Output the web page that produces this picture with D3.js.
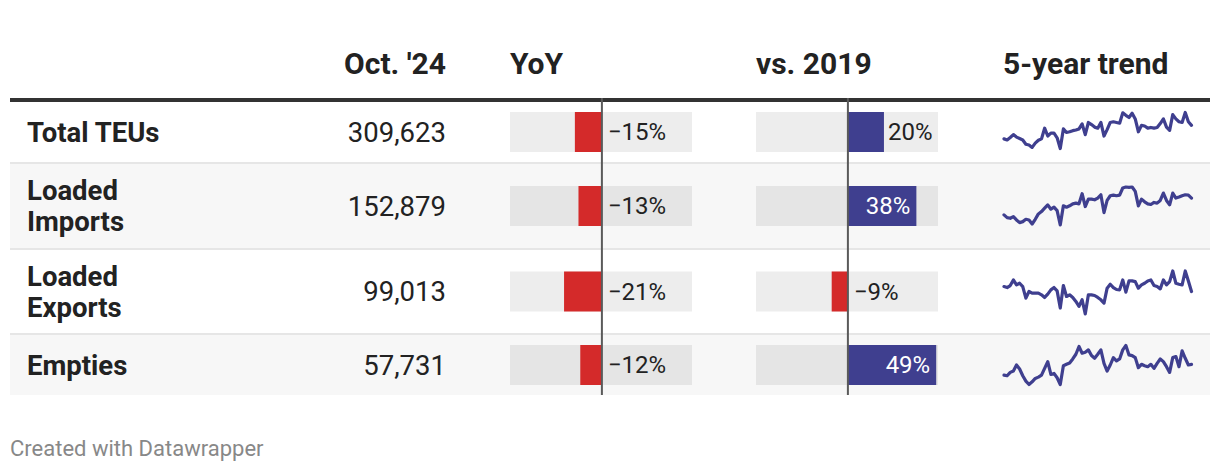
<!DOCTYPE html>
<html><head><meta charset="utf-8">
<script src="https://cdn.jsdelivr.net/npm/d3@7"></script>
<style>html,body{margin:0;padding:0;background:#fff;} svg{display:block;font-family:Roboto, sans-serif;}</style>
</head><body><svg id="c" width="1220" height="472"></svg>
<script>
// ---- data ----
const categories = [["Total TEUs"], ["Loaded", "Imports"], ["Loaded", "Exports"], ["Empties"]];
const octValues = [309623, 152879, 99013, 57731];
const yoyValues = [-15, -13, -21, -12];
const vs2019Values = [20, 38, -9, 49];
const columnHeaders = ["Oct. '24", "YoY", "vs. 2019", "5-year trend"];
const footerText = "Created with Datawrapper";
// 5-year monthly trend (relative level, Oct 2019 – Oct 2024)
const trendTotal = [82,79,86,94,87,83,79,67,65,58,70,78,82,112,90,98,98,85,55,110,100,102,105,107,110,124,94,128,122,115,112,128,90,108,128,130,128,126,155,148,142,154,138,102,120,118,112,114,112,114,125,138,115,106,150,138,130,128,156,130,120];
const trendImports = [65,57,55,60,50,42,45,52,50,38,52,68,75,85,95,82,88,78,35,92,88,92,98,100,98,128,90,112,112,110,115,125,72,108,122,124,122,124,145,148,147,148,135,92,112,104,98,96,102,100,108,130,108,95,130,115,118,122,125,124,115];
const trendExports = [105,102,108,125,110,115,105,70,90,85,85,85,80,72,82,95,102,92,40,108,75,80,72,60,45,65,22,80,80,78,72,65,55,100,112,102,96,95,125,88,122,122,120,100,110,115,122,125,108,105,98,125,110,120,152,115,112,110,152,122,90];
const trendEmpties = [80,78,88,92,110,98,78,62,52,60,70,74,80,100,120,82,85,72,52,108,112,116,128,142,165,145,148,155,138,130,142,155,115,92,110,132,122,128,155,168,140,138,132,102,112,108,105,112,100,115,128,120,105,88,132,135,105,152,130,110,112];
const trends = [trendTotal, trendImports, trendExports, trendEmpties];

// ---- layout ----
const svg = d3.select("#c");
const W = 1220;
const tableX0 = 10, tableX1 = 1210;
const rowTops = [102, 164, 250, 335];
const rowBottoms = [162, 248, 333, 395];
const sparkH = [36, 38, 43, 39];
const sparkOff = [-1.5, 0, 1, 0];
const txt = "#222";
const blue = "#3f3f8f", red = "#d42a2a";
const bodyFs = 27.5, headFs = 30, pctFs = 24;

svg.append("rect").attr("width", W).attr("height", 472).attr("fill", "#fff");

// row backgrounds
categories.forEach((c, i) => {
  svg.append("rect").attr("x", tableX0).attr("width", tableX1 - tableX0)
    .attr("y", rowTops[i]).attr("height", rowBottoms[i] - rowTops[i])
    .attr("fill", i % 2 ? "#f7f7f7" : "#fff");
  if (i > 0) svg.append("rect").attr("x", tableX0).attr("width", tableX1 - tableX0)
    .attr("y", rowTops[i] - 2).attr("height", 2).attr("fill", "#e6e6e6");
});

// header
const headX = [446, 510, 756, 1003];
const headAnchor = ["end", "start", "start", "start"];
columnHeaders.forEach((h, i) => {
  svg.append("text").attr("x", headX[i]).attr("y", 74).attr("text-anchor", headAnchor[i])
    .attr("font-size", headFs).attr("font-weight", 700).attr("fill", txt).text(h);
});
svg.append("rect").attr("x", tableX0).attr("width", tableX1 - tableX0).attr("y", 98).attr("height", 4).attr("fill", "#333");

const centers = rowTops.map((t, i) => (t + rowBottoms[i]) / 2);
const cap = 0.711;

// row labels
categories.forEach((lines, i) => {
  const lh = 31;
  const n = lines.length;
  lines.forEach((l, j) => {
    const base = centers[i] + 19.5 / 2 + (j - (n - 1) / 2) * lh;
    svg.append("text").attr("x", 27).attr("y", base).attr("font-size", bodyFs)
      .attr("font-weight", 700).attr("fill", txt).text(l);
  });
});

// numbers
const fmt = d3.format(",");
octValues.forEach((v, i) => {
  svg.append("text").attr("x", 446).attr("y", centers[i] + 19.5 / 2)
    .attr("text-anchor", "end").attr("font-size", bodyFs).attr("fill", txt).text(fmt(v));
});

// bar columns
const pct = v => (v < 0 ? "\u2212" : "") + Math.abs(v) + "%";
function barColumn(values, x0, x1) {
  const x = d3.scaleLinear().domain([-51, 50]).range([x0, x1]);
  const g = svg.append("g");
  values.forEach((v, i) => {
    const cy = centers[i];
    const bh = 40;
    g.append("rect").attr("x", x0).attr("width", x1 - x0).attr("y", cy - bh / 2).attr("height", bh)
      .attr("fill", "#000").attr("fill-opacity", 0.07);
    g.append("rect").attr("x", Math.min(x(0), x(v))).attr("width", Math.abs(x(v) - x(0)))
      .attr("y", cy - bh / 2).attr("height", bh).attr("fill", v < 0 ? red : blue);
    const t = g.append("text").attr("font-size", pctFs).attr("y", cy + 8.2).text(pct(v));
    const tw = t.node().getComputedTextLength();
    if (v < 0) {
      t.attr("x", x(0) + 6).attr("fill", txt);
    } else if (x(v) - x(0) > tw + 12) {
      t.attr("x", x(v) - 6).attr("text-anchor", "end").attr("fill", "#fff");
    } else {
      t.attr("x", x(v) + 4).attr("fill", txt);
    }
  });
  g.append("line").attr("x1", x(0)).attr("x2", x(0)).attr("y1", 98).attr("y2", 395)
    .attr("stroke", "#5a5a5a").attr("stroke-width", 2);
}
barColumn(yoyValues, 510, 692);
barColumn(vs2019Values, 756, 938);

// sparklines
trends.forEach((s, i) => {
  const x = d3.scaleLinear().domain([0, s.length - 1]).range([1004, 1191.5]);
  const c = centers[i] + sparkOff[i];
  const y = d3.scaleLinear().domain(d3.extent(s)).range([c + sparkH[i] / 2, c - sparkH[i] / 2]);
  svg.append("path").datum(s)
    .attr("d", d3.line().x((d, k) => x(k)).y(d => y(d)))
    .attr("fill", "none").attr("stroke", blue).attr("stroke-width", 3.2)
    .attr("stroke-linejoin", "round").attr("stroke-linecap", "round");
});

// footer
svg.append("text").attr("x", 10).attr("y", 456).attr("font-size", 22).attr("fill", "#888").text(footerText);
</script>
</body></html>
